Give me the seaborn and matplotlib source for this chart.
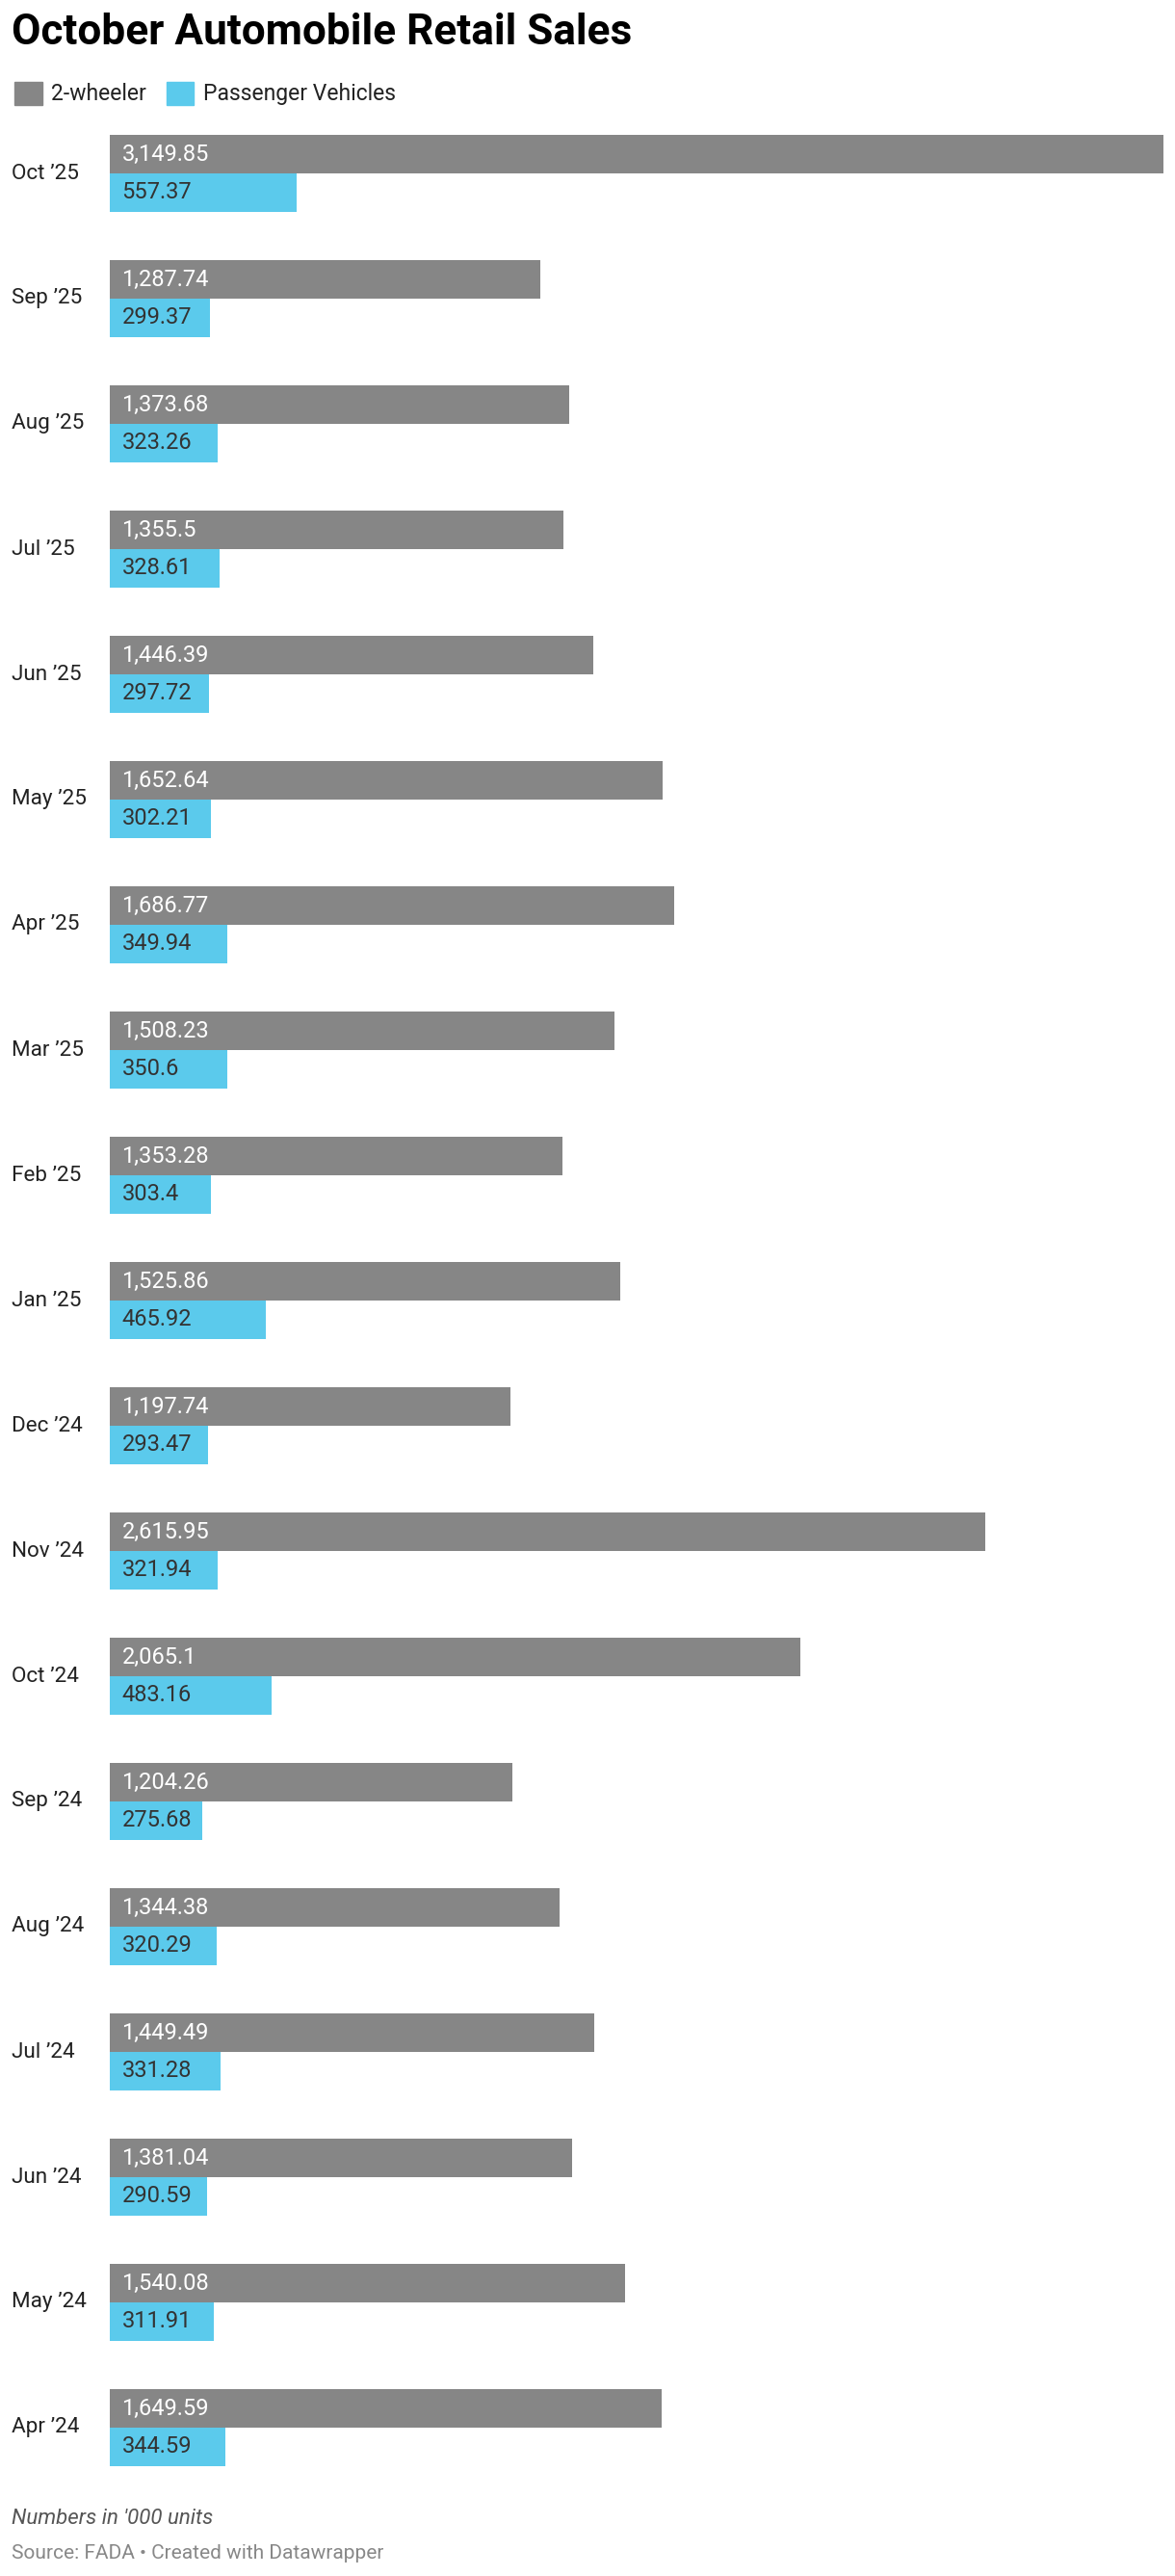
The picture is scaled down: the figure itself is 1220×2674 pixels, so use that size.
import matplotlib
matplotlib.use('Agg')
import matplotlib.pyplot as plt
import matplotlib.transforms as mtransforms
import pandas as pd
import seaborn as sns

months = ["Oct ’25", "Sep ’25", "Aug ’25", "Jul ’25", "Jun ’25", "May ’25", "Apr ’25",
          "Mar ’25", "Feb ’25", "Jan ’25", "Dec ’24", "Nov ’24", "Oct ’24", "Sep ’24",
          "Aug ’24", "Jul ’24", "Jun ’24", "May ’24", "Apr ’24"]
two_wheeler = [3149.85, 1287.74, 1373.68, 1355.5, 1446.39, 1652.64, 1686.77,
               1508.23, 1353.28, 1525.86, 1197.74, 2615.95, 2065.1, 1204.26,
               1344.38, 1449.49, 1381.04, 1540.08, 1649.59]
passenger = [557.37, 299.37, 323.26, 328.61, 297.72, 302.21, 349.94,
             350.6, 303.4, 465.92, 293.47, 321.94, 483.16, 275.68,
             320.29, 331.28, 290.59, 311.91, 344.59]
series = ["2-wheeler", "Passenger Vehicles"]
colors = ["#868686", "#5bcaec"]


def fmt(v):
    s = f"{v:,.2f}".rstrip("0").rstrip(".")
    return s


df = pd.DataFrame({
    "month": months * 2,
    "value": two_wheeler + passenger,
    "series": [series[0]] * len(months) + [series[1]] * len(months),
})

sns.set_theme(style="white")
plt.rcParams['font.family'] = ['Roboto', 'DejaVu Sans']

W, H = 1220, 2674
fig = plt.figure(figsize=(W / 100, H / 100), dpi=100)
ax = fig.add_axes([114 / W, 1 - 2585 / H, 1094 / W, 2470 / H])

sns.barplot(data=df, x="value", y="month", hue="series", order=months,
            hue_order=series, palette=colors, orient="h", width=0.615,
            dodge=True, saturation=1, legend=False, ax=ax, linewidth=0)

ax.set_xlim(0, max(two_wheeler))
ax.set_ylim(len(months) - 0.5, -0.5)
ax.set_xlabel("")
ax.set_ylabel("")
ax.set_xticks([])
ax.set_yticks([])
for s in ax.spines.values():
    s.set_visible(False)

# value labels inside bars
for container, tcol in zip(ax.containers, ["white", "#333333"]):
    for bar, v in zip(container, container.datavalues):
        ax.annotate(fmt(v), (0, bar.get_y() + bar.get_height() / 2),
                    xytext=(9, 0), textcoords="offset points",
                    ha="left", va="center", fontsize=17, color=tcol)

# row labels, left aligned at the figure edge
trans = mtransforms.blended_transform_factory(fig.transFigure, ax.transData)
for i, m in enumerate(months):
    ax.text(12 / W, i, m, transform=trans, ha="left", va="center",
            fontsize=16.2, color="#222222")

fig.text(12 / W, 1 - 34 / H, "October Automobile Retail Sales", fontsize=31.8,
         fontweight="bold", ha="left", va="center", color="black")

handles = [plt.Rectangle((0, 0), 1, 1, color=c) for c in colors]
fig.legend(handles, series, loc="center left", bbox_to_anchor=(4 / W, 1 - 97 / H),
           ncol=2, frameon=False, fontsize=16.5, handlelength=1.25, handleheight=1.25,
           handletextpad=0.4, columnspacing=0.9, borderpad=0, labelcolor="#222222")

fig.text(12 / W, 1 - 2614 / H, "Numbers in '000 units", fontsize=16, style="italic",
         color="#555555", ha="left", va="center")
fig.text(12 / W, 1 - 2651 / H, "Source: FADA • Created with Datawrapper", fontsize=15,
         color="#888888", ha="left", va="center")

fig.savefig("out.png", dpi=100, facecolor="white")
